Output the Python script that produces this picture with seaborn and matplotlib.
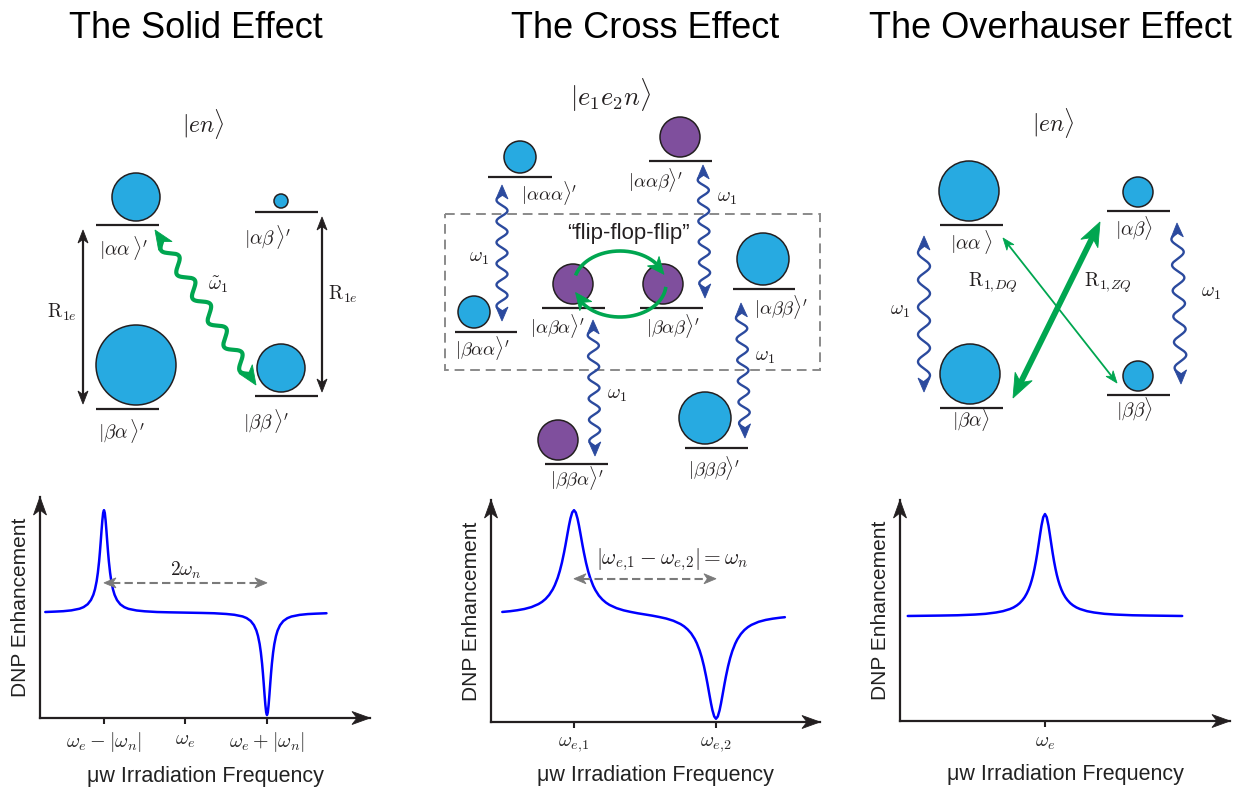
import numpy as np
import pandas as pd
import matplotlib
matplotlib.use("Agg")
import matplotlib.pyplot as plt
import seaborn as sns
from matplotlib.patches import Polygon, Circle, Rectangle

# ---------------------------------------------------------------- data
titles = ["The Solid Effect", "The Cross Effect", "The Overhauser Effect"]
kets = [r"$|en\rangle$", r"$|e_1e_2n\rangle$", r"$|en\rangle$"]
xlabel_text = "μw Irradiation Frequency"
ylabel_text = "DNP Enhancement"

# Solid effect profile (frequency in units of |omega_n| around omega_e)
se_freq = [-1.72, -1.6, -1.5, -1.4, -1.3, -1.25, -1.2, -1.16, -1.13, -1.11,
           -1.09, -1.075, -1.06, -1.05, -1.04, -1.03, -1.02, -1.01, -1.0,
           -0.99, -0.98, -0.97, -0.96, -0.95, -0.94, -0.925, -0.91, -0.89, -0.87,
           -0.84, -0.8, -0.75, -0.7, -0.6, -0.5, -0.35, -0.2,
           0.0,
           0.2, 0.35, 0.5, 0.6, 0.7, 0.75, 0.8, 0.84,
           0.87, 0.89, 0.91, 0.925, 0.94, 0.95, 0.96, 0.97, 0.98, 0.99,
           1.0, 1.01, 1.02, 1.03, 1.04, 1.05, 1.06, 1.075, 1.09, 1.11,
           1.13, 1.16, 1.2, 1.25, 1.3, 1.4, 1.5, 1.6, 1.73]
se_enh = [0.006, 0.010, 0.014, 0.022, 0.038, 0.054, 0.082, 0.123, 0.175, 0.229,
          0.307, 0.390, 0.499, 0.590, 0.692, 0.800, 0.899, 0.973, 0.999,
          0.972, 0.898, 0.799, 0.691, 0.589, 0.498, 0.389, 0.306, 0.228, 0.174,
          0.122, 0.081, 0.053, 0.037, 0.021, 0.013, 0.006, 0.003,
          0.0,
          -0.003, -0.006, -0.013, -0.021, -0.037, -0.053, -0.081, -0.122,
          -0.174, -0.228, -0.306, -0.389, -0.498, -0.589, -0.691, -0.799, -0.898, -0.972,
          -0.999, -0.973, -0.899, -0.800, -0.692, -0.590, -0.499, -0.390, -0.307, -0.229,
          -0.175, -0.123, -0.082, -0.054, -0.038, -0.022, -0.014, -0.010, -0.006]
se_ticks = [-1, 0, 1]
se_ticklabels = [r"$\omega_e-|\omega_n|$", r"$\omega_e$", r"$\omega_e+|\omega_n|$"]
se_span = [-1, 1]
se_span_label = r"$2\omega_n$"

# Cross effect profile
ce_freq = [-2.01, -1.9, -1.8, -1.7, -1.6, -1.5, -1.45, -1.4, -1.35, -1.3,
           -1.27, -1.23, -1.2, -1.17, -1.14, -1.12, -1.09, -1.07, -1.05, -1.025,
           -1.0,
           -0.975, -0.95, -0.93, -0.91, -0.88, -0.86, -0.83, -0.8, -0.77, -0.73,
           -0.7, -0.65, -0.6, -0.55, -0.5, -0.4, -0.3, -0.2, -0.1,
           0.0,
           0.1, 0.2, 0.3, 0.4, 0.5, 0.55, 0.6, 0.65, 0.7,
           0.73, 0.77, 0.8, 0.83, 0.86, 0.88, 0.91, 0.93, 0.95, 0.975,
           1.0,
           1.025, 1.05, 1.07, 1.09, 1.12, 1.14, 1.17, 1.2, 1.23, 1.27,
           1.3, 1.35, 1.4, 1.45, 1.5, 1.6, 1.7, 1.8, 1.9, 1.97]
ce_enh = [0.024, 0.031, 0.040, 0.052, 0.070, 0.099, 0.120, 0.148, 0.186, 0.238,
          0.279, 0.348, 0.414, 0.494, 0.590, 0.661, 0.775, 0.849, 0.914, 0.972,
          0.993,
          0.971, 0.912, 0.847, 0.773, 0.659, 0.588, 0.491, 0.410, 0.344, 0.274,
          0.233, 0.180, 0.142, 0.113, 0.091, 0.060, 0.039, 0.024, 0.011,
          0.0,
          -0.011, -0.024, -0.039, -0.060, -0.091, -0.113, -0.142, -0.180, -0.233,
          -0.274, -0.344, -0.410, -0.491, -0.588, -0.659, -0.773, -0.847, -0.912, -0.971,
          -0.993,
          -0.972, -0.914, -0.849, -0.775, -0.661, -0.590, -0.494, -0.414, -0.348, -0.279,
          -0.238, -0.186, -0.148, -0.120, -0.099, -0.070, -0.052, -0.040, -0.031, -0.026]
ce_ticks = [-1, 1]
ce_ticklabels = [r"$\omega_{e,\!1}$", r"$\omega_{e,\!2}$"]
ce_span = [-1, 1]
ce_span_label = r"$|\omega_{e,\!1}-\omega_{e,\!2}|=\omega_n$"

# Overhauser effect profile
oe_freq = [-1.96, -1.5, -1.25, -1.0, -0.85, -0.7, -0.6, -0.5, -0.45, -0.4,
           -0.36, -0.32, -0.29, -0.26, -0.235, -0.21, -0.19, -0.17, -0.15, -0.13,
           -0.11, -0.09, -0.07, -0.05, -0.025,
           0.0,
           0.025, 0.05, 0.07, 0.09, 0.11,
           0.13, 0.15, 0.17, 0.19, 0.21, 0.235, 0.26, 0.29, 0.32, 0.36,
           0.4, 0.45, 0.5, 0.6, 0.7, 0.85, 1.0, 1.25, 1.5, 1.96]
oe_enh = [0.005, 0.009, 0.012, 0.019, 0.026, 0.039, 0.052, 0.073, 0.088, 0.109,
          0.131, 0.161, 0.189, 0.225, 0.262, 0.308, 0.352, 0.404, 0.466, 0.537,
          0.618, 0.708, 0.800, 0.887, 0.969,
          1.0,
          0.969, 0.887, 0.800, 0.708, 0.618,
          0.537, 0.466, 0.404, 0.352, 0.308, 0.262, 0.225, 0.189, 0.161, 0.131,
          0.109, 0.088, 0.073, 0.052, 0.039, 0.026, 0.019, 0.012, 0.009, 0.005]
oe_ticks = [0]
oe_ticklabels = [r"$\omega_e$"]

# Energy-level states and relative populations (circle radius, px)
se_states = [r"$|\alpha\alpha\,\rangle'$", r"$|\beta\alpha\,\rangle'$",
             r"$|\alpha\beta\,\rangle'$", r"$|\beta\beta\,\rangle'$"]
se_pop = [24, 40, 7, 24]
ce_states = [r"$|\alpha\alpha\alpha\rangle'$", r"$|\alpha\alpha\beta\rangle'$",
             r"$|\beta\alpha\alpha\rangle'$", r"$|\alpha\beta\alpha\rangle'$",
             r"$|\beta\alpha\beta\rangle'$", r"$|\alpha\beta\beta\rangle'$",
             r"$|\beta\beta\alpha\rangle'$", r"$|\beta\beta\beta\rangle'$"]
ce_pop = [16, 20, 16, 20, 20, 26, 20, 26]
ce_group = ["blue", "purple", "blue", "purple", "purple", "blue", "purple", "blue"]
oe_states = [r"$|\alpha\alpha\,\rangle$", r"$|\beta\alpha\rangle$",
             r"$|\alpha\beta\rangle$", r"$|\beta\beta\rangle$"]
oe_pop = [30, 30, 15, 15]

w1 = r"$\omega_1$"
w1_tilde = r"$\tilde{\omega}_1$"
r1e = r"$\mathrm{R}_{1e}$"
r1dq = r"$\mathrm{R}_{1,\!DQ}$"
r1zq = r"$\mathrm{R}_{1,\!ZQ}$"
ffp = "\u201cflip-flop-flip\u201d"

# ---------------------------------------------------------------- layout / style
W, H = 1234, 787
K = "#231F20"
CYAN = "#27AAE1"
PURPLE = "#7F4F9D"
WBLUE = "#2B4A9E"
GREEN = "#00A650"
GRAY = "#7A7A7A"
colmap = {"blue": CYAN, "purple": PURPLE}

sns.set_theme(style="white")
plt.rcParams["font.family"] = ["Liberation Sans", "DejaVu Sans"]
plt.rcParams["mathtext.fontset"] = "cm"

fig = plt.figure(figsize=(W / 100, H / 100), dpi=100)
fig.patch.set_facecolor("white")


# ---------------------------------------------------------------- plots
def make_plot(left, right, bottom, top, x, y, xlim, ylim, ticks, ticklabels):
    ax = fig.add_axes([left / W, (H - bottom) / H, (right - left) / W, (bottom - top) / H])
    df = pd.DataFrame({"freq": x, "enh": y})
    sns.lineplot(data=df, x="freq", y="enh", ax=ax, color="#0000FF", lw=1.8,
                 estimator=None, sort=False)
    ax.set_xlim(*xlim)
    ax.set_ylim(*ylim)
    ax.patch.set_alpha(0)
    for s in ["top", "right"]:
        ax.spines[s].set_visible(False)
    for s in ["left", "bottom"]:
        ax.spines[s].set_color(K)
        ax.spines[s].set_linewidth(1.6)
    ax.set_xticks(ticks)
    ax.set_xticklabels(ticklabels, fontsize=14.5)
    ax.set_yticks([])
    ax.tick_params(axis="x", bottom=True, length=4, width=1.5, color=K, pad=5, direction="out")
    ax.set_xlabel(xlabel_text, fontsize=15.5, labelpad=8, color="#222222")
    ax.set_ylabel(ylabel_text, fontsize=15, labelpad=7, color="#222222")
    return ax


ax_se = make_plot(40, 370, 718, 497, se_freq, se_enh, (-1.785, 2.264), (-1.027, 1.127),
                  se_ticks, se_ticklabels)
ax_ce = make_plot(491, 820, 722, 500, ce_freq, ce_enh, (-2.169, 2.465), (-1.024, 1.090),
                  ce_ticks, ce_ticklabels)
ax_oe = make_plot(900, 1230, 721, 500, oe_freq, oe_enh, (-2.071, 2.643), (-1.02, 1.137),
                  oe_ticks, oe_ticklabels)

# ---------------------------------------------------------------- overlay (pixel coords)
ov = fig.add_axes([0, 0, 1, 1])
ov.set_xlim(0, W)
ov.set_ylim(H, 0)
ov.axis("off")


def to_px(ax, x, y):
    disp = ax.transData.transform((x, y))
    return ov.transData.inverted().transform(disp)


def head(tip, d, hl, hw, color, z=5):
    tip = np.asarray(tip, float)
    d = np.asarray(d, float)
    d = d / np.hypot(*d)
    n = np.array([-d[1], d[0]])
    back = tip - d * hl
    notch = tip - d * hl * 0.72
    pts = [tip, back + n * hw / 2, notch, back - n * hw / 2]
    ov.add_patch(Polygon(pts, closed=True, fc=color, ec=color, lw=0.6, zorder=z,
                         joinstyle="miter"))


def straight(p0, p1, color, lw, hl, hw, both=True, ls="-", z=4):
    p0 = np.asarray(p0, float)
    p1 = np.asarray(p1, float)
    d = (p1 - p0) / np.hypot(*(p1 - p0))
    a = p0 + d * hl * 0.7 if both else p0
    b = p1 - d * hl * 0.7
    ov.plot([a[0], b[0]], [a[1], b[1]], color=color, lw=lw, ls=ls,
            solid_capstyle="butt", zorder=z)
    head(p1, d, hl, hw, color, z + 1)
    if both:
        head(p0, -d, hl, hw, color, z + 1)


def wavy(p0, p1, color, amp, wl, lw, hl, hw, z=4):
    p0 = np.asarray(p0, float)
    p1 = np.asarray(p1, float)
    L = np.hypot(*(p1 - p0))
    d = (p1 - p0) / L
    n = np.array([-d[1], d[0]])
    s0, s1 = hl * 0.7, L - hl * 0.7
    nhalf = max(1, int(round(2 * (s1 - s0) / wl)))
    wle = 2 * (s1 - s0) / nhalf
    s = np.linspace(s0, s1, 500)
    off = amp * np.sin(2 * np.pi * (s - s0) / wle)
    pts = p0[None, :] + np.outer(s, d) + np.outer(off, n)
    ov.plot(pts[:, 0], pts[:, 1], color=color, lw=lw, solid_capstyle="round",
            solid_joinstyle="round", zorder=z)
    head(p1, d, hl, hw, color, z + 1)
    head(p0, -d, hl, hw, color, z + 1)


def arc(cx, cy, rx, ry, t0, t1, color, lw, hl, hw, z=4):
    t = np.radians(np.linspace(t0, t1, 400))
    x = cx + rx * np.cos(t)
    y = cy - ry * np.sin(t)
    tip = np.array([x[-1], y[-1]])
    dist = np.hypot(x - tip[0], y - tip[1])
    keep = dist > hl * 0.65
    ov.plot(x[keep], y[keep], color=color, lw=lw, solid_capstyle="butt", zorder=z)
    idx = np.argmin(np.abs(dist - hl))
    d = tip - np.array([x[idx], y[idx]])
    head(tip, d, hl, hw, color, z + 1)


def level(x0, x1, y, r, cx, color, label, lx, ly, fs=14):
    ov.plot([x0, x1], [y, y], color=K, lw=1.6, solid_capstyle="butt", zorder=3)
    ov.add_patch(Circle((cx, y - r - 4), r, fc=color, ec=K, lw=1.1, zorder=3))
    ov.text(lx, ly, label, ha="center", va="center", fontsize=fs, color=K)


# titles and kets
for tx, t in zip([196, 645, 1050], titles):
    ov.text(tx, 28, t, ha="center", va="center", fontsize=26, color="black")
for (kx, ky), k, fs in zip([(203, 124), (611, 95), (1053, 123)], kets, [17, 19, 17]):
    ov.text(kx, ky, k, ha="center", va="center", fontsize=fs, color=K)

# ---------------- Solid effect diagram
se_layout = [  # x0, x1, y, cx, lx, ly
    (96, 159, 225, 136, 123, 248),
    (96, 159, 409, 136, 122, 431),
    (255, 318, 212, 281, 268, 237),
    (255, 318, 396, 281, 266, 421),
]
for (x0, x1, y, cx, lx, ly), r, lab in zip(se_layout, se_pop, se_states):
    level(x0, x1, y, r, cx, CYAN, lab, lx, ly)
straight((83, 230), (83, 404), K, 1.6, 13, 10)
straight((322, 217), (322, 392), K, 1.6, 13, 10)
ov.text(62, 312, r1e, ha="center", va="center", fontsize=14, color=K)
ov.text(343, 294, r1e, ha="center", va="center", fontsize=14, color=K)
wavy((155, 230), (256, 385), GREEN, 6, 30, 3.0, 19, 16)
ov.text(218, 285, w1_tilde, ha="center", va="center", fontsize=14, color=K)

# ---------------- Cross effect diagram
ov.add_patch(Rectangle((445, 214), 375, 156, fill=False, ec="#8A8A8A", lw=1.4,
                       ls=(0, (5, 3)), zorder=1))
ce_layout = [
    (488, 552, 177, 520, 549, 193),
    (649, 712, 161, 680, 655, 180),
    (455, 517, 332, 474, 482, 348),
    (542, 605, 308, 573, 557, 326),
    (640, 703, 308, 663, 673, 326),
    (733, 795, 289, 763, 781, 307),
    (545, 608, 464, 558, 577, 478),
    (685, 748, 448, 705, 714, 468),
]
for (x0, x1, y, cx, lx, ly), r, g, lab in zip(ce_layout, ce_pop, ce_group, ce_states):
    level(x0, x1, y, r, cx, colmap[g], lab, lx, ly, fs=13.5)
wavy((502, 185), (502, 321), WBLUE, 5.5, 21, 1.7, 14, 12)
wavy((703, 165), (705, 298), WBLUE, 5.5, 21, 1.7, 14, 12)
wavy((593, 320), (595, 456), WBLUE, 5.5, 21, 1.7, 14, 12)
wavy((741, 303), (745, 438), WBLUE, 5.5, 21, 1.7, 14, 12)
for (x, y) in [(479, 258), (727, 198), (617, 395), (765, 357)]:
    ov.text(x, y, w1, ha="center", va="center", fontsize=14, color=K)
ov.text(628, 233, ffp, ha="center", va="center", fontsize=16, color=K)
arc(620, 284, 46, 33, 165, 17, GREEN, 2.6, 17, 15)
arc(620, 284, 46, 33, -5, -165, GREEN, 2.6, 17, 15)

# ---------------- Overhauser diagram
oe_layout = [
    (940, 1003, 225, 969, 971, 242),
    (940, 1003, 408, 970, 971, 419),
    (1107, 1170, 211, 1138, 1134, 228),
    (1107, 1170, 395, 1138, 1134, 409),
]
for (x0, x1, y, cx, lx, ly), r, lab in zip(oe_layout, oe_pop, oe_states):
    level(x0, x1, y, r, cx, CYAN, lab, lx, ly)
wavy((924, 236), (924, 392), WBLUE, 6, 26, 1.7, 14, 12)
wavy((1177, 223), (1181, 384), WBLUE, 6, 26, 1.7, 14, 12)
ov.text(900, 312, w1, ha="center", va="center", fontsize=14, color=K)
ov.text(1211, 293, w1, ha="center", va="center", fontsize=14, color=K)
straight((1003, 238), (1117, 383), GREEN, 1.3, 12, 9)
straight((1100, 222), (1013, 398), GREEN, 4.2, 24, 19)
ov.text(993, 283, r1dq, ha="center", va="center", fontsize=14, color=K)
ov.text(1108, 283, r1zq, ha="center", va="center", fontsize=14, color=K)

# ---------------- plot axes arrowheads and span annotations
for ax in [ax_se, ax_ce, ax_oe]:
    x0, x1 = ax.get_xlim()
    y0, y1 = ax.get_ylim()
    head(to_px(ax, x1, y0), (1, 0), 18, 13, K)
    head(to_px(ax, x0, y1), (0, -1), 18, 13, K)

for ax, span, yv, lab, lxy, fs in [
    (ax_se, se_span, 0.29, se_span_label, (0.0, 0.41), 14),
    (ax_ce, ce_span, 0.34, ce_span_label, (0.38, 0.52), 15.5),
]:
    pa = to_px(ax, span[0], yv)
    pb = to_px(ax, span[1], yv)
    straight(pa, pb, GRAY, 1.5, 12, 10, ls=(0, (4, 2)))
    lp = to_px(ax, *lxy)
    ov.text(lp[0], lp[1], lab, ha="center", va="center", fontsize=fs, color=K)

fig.savefig("out.png", dpi=100)
